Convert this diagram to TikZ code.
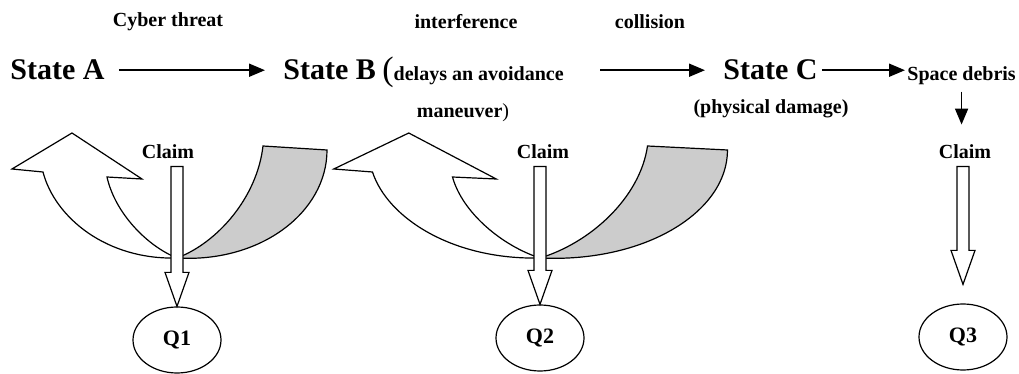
\documentclass[tikz,border=0pt]{standalone}
\usepackage{fontspec}
\setmainfont{Liberation Serif}
\usetikzlibrary{calc,arrows.meta,shapes.geometric}

\newcommand\claimarrow[3][0pt]{%
  \draw[hollow] let \p1=(#2.south), \p2=(#3.north) in
    (\x2-3pt,\y1-3.5pt) -- (\x2+3pt,\y1-3.5pt) -- (\x2+3pt,\y2+#1+17pt)
    -- (\x2+6pt,\y2+#1+17pt) -- (\x2,\y2+#1) -- (\x2-6pt,\y2+#1+17pt)
    -- (\x2-3pt,\y2+#1+17pt) -- cycle;}

\tikzset{uturn/.pic={
  \draw[line width=0.6pt, fill=white] (-105,-125) -- (-165,-89) -- (-134,-86)
    .. controls (-122,-40) and (-70,2) .. (0,0)
    .. controls (-30,-12) and (-62,-45) .. (-70,-81) -- (-35,-79) -- cycle;
  \draw[line width=0.6pt, fill=black!20] (86,-112) -- (150,-108)
    .. controls (150,-46) and (84,5) .. (0,0)
    .. controls (40,-15) and (80,-60) .. (86,-112) -- cycle;
}}

\begin{document}
\begin{tikzpicture}[x=0.5pt, y=-0.5pt,
  every node/.style={inner sep=0pt},
  big/.style={font=\fontsize{15}{18}\selectfont\bfseries},
  small/.style={font=\fontsize{10}{12}\selectfont\bfseries},
  qnode/.style={draw, ellipse, line width=0.6pt, minimum width=44pt, minimum height=33pt,
    font=\fontsize{11}{13}\selectfont\bfseries},
  arr/.style={-{Triangle[length=8pt,width=6.5pt]}, line width=0.9pt},
  hollow/.style={draw, fill=white, line width=0.6pt}]
\useasboundingbox (0,0) rectangle (1019,374);

\node[small] (threat) at (168,22) {Cyber threat};
\node[small] (interf) at (466,22) {interference};
\node[small] (collis) at (650,22) {collision};

\node[big, anchor=base west] (stA) at (10,80) {State A};
\node[big, anchor=base west] (stB) at (283,80) {State B};
\node[small, anchor=base west] (delays) at (382,81) {{\fontsize{17}{18}\selectfont\mdseries(}delays an avoidance};
\node[small, anchor=base] (manv) at (463,118) {maneuver{\mdseries)}};
\node[big, anchor=base west] (stC) at (723,80) {State C};
\node[small, anchor=base] (damage) at (771,114) {(physical damage)};
\node[small, anchor=base west] (debris) at (907,81) {Space debris};

\node[small] (claimA) at (168,152) {Claim};
\node[small] (claimB) at (543,152) {Claim};
\node[small] (claimC) at (965,152) {Claim};

\node[qnode] (qA) at (177,340) {Q1};
\node[qnode] (qB) at (540,338) {Q2};
\node[qnode] (qC) at (963,337) {Q3};

\coordinate (bc) at ([xshift=18pt]delays.east);

\draw[arr, shorten <=7pt, shorten >=9pt] (stA) -- (stB);
\draw[arr, shorten >=9pt] (bc |- stC) -- (stC);
\draw[arr, shorten <=2pt, shorten >=1pt] (stC) -- (stC -| debris.west);
\draw[arr, shorten <=3pt, shorten >=10pt] (debris.south) -- (debris.south |- claimC.north);

\pic at (177,258) {uturn};
\pic[xscale=1.25] at (540,258) {uturn};

\claimarrow{claimA}{qA}
\claimarrow{claimB}{qB}
\claimarrow[9.5pt]{claimC}{qC}
\end{tikzpicture}
\end{document}
